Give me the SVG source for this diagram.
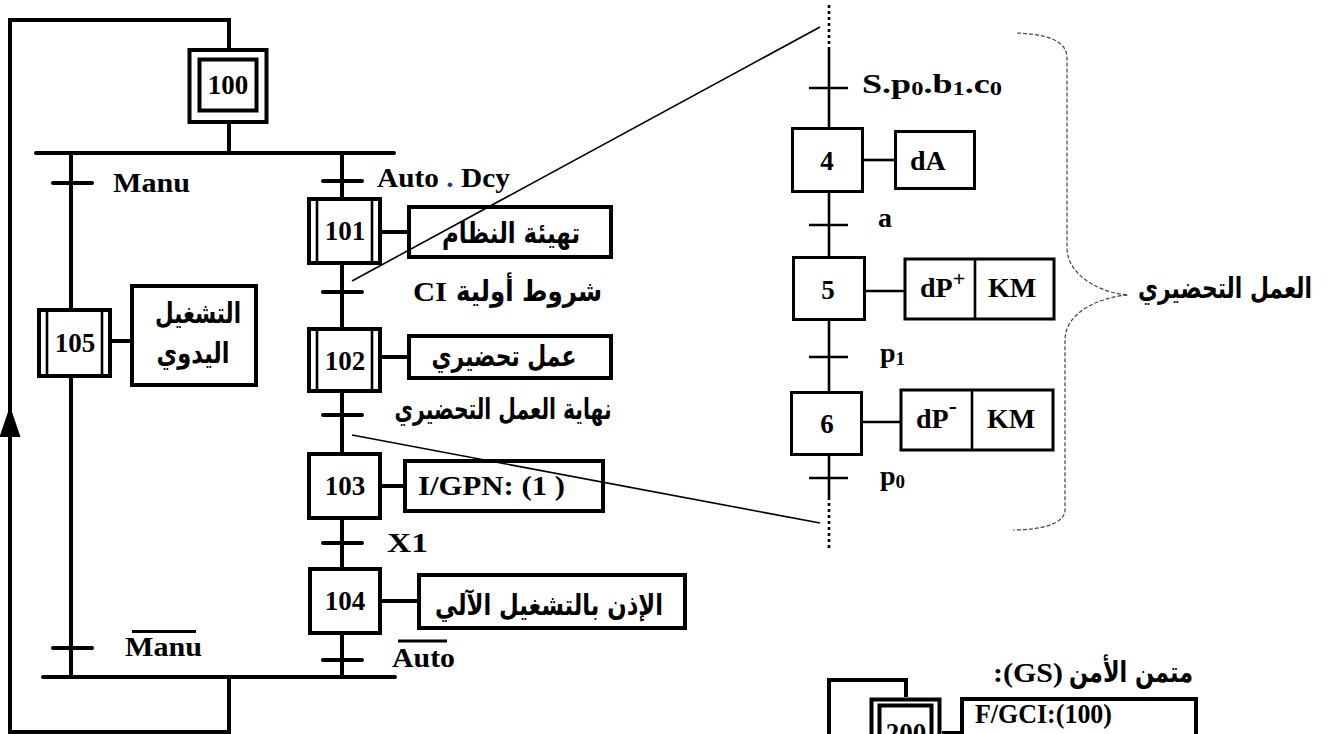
<svg xmlns="http://www.w3.org/2000/svg" width="1339" height="734" viewBox="0 0 1339 734">
<style>
.bg{fill:#fff}
.ln{stroke:#000;stroke-width:4;fill:none}
.lnr{stroke:#000;stroke-width:4;fill:none;stroke-linecap:round}
.box{fill:#fff;stroke:#000;stroke-width:4}
.act{fill:#fff;stroke:#000;stroke-width:4}
.bar{stroke:#000;stroke-width:2.6}
.rl{stroke:#000;stroke-width:2.6;fill:none}
.rbox{fill:#fff;stroke:#000;stroke-width:3}
.dot{stroke:#000;stroke-width:2.6;stroke-dasharray:3 3;fill:none}
.thin{stroke:#000;stroke-width:1.6;fill:none}
.brace{stroke:#444;stroke-width:1.2;stroke-dasharray:4 2;fill:none}
.num{font-family:'Liberation Serif',serif;font-weight:bold;font-size:27px;text-anchor:middle;fill:#000}
.lat{font-family:'Liberation Serif',serif;font-weight:bold;font-size:28px;fill:#000}
.ar{font-family:'DejaVu Sans','Liberation Serif',sans-serif;font-weight:bold;font-size:29px;text-anchor:middle;fill:#000}
</style>
<rect class="bg" x="0" y="0" width="1339" height="734"/>

<g id="step100">
  <rect class="box" x="189.5" y="50" width="77" height="72" stroke-width="4.5"/>
  <rect class="box" x="199.5" y="59.5" width="57" height="51" stroke-width="4.5"/>
  <text class="num" x="228" y="94">100</text>
</g>

<g id="step105">
  <rect class="box" x="39" y="310" width="71" height="66"/>
  <line class="bar" x1="47" y1="310" x2="47" y2="376"/>
  <line class="bar" x1="102" y1="310" x2="102" y2="376"/>
  <text class="num" x="75" y="352">105</text>
  <rect class="act" x="132" y="286" width="124" height="99"/>
  <text class="ar" x="198" y="323" textLength="86" lengthAdjust="spacingAndGlyphs">التشغيل</text>
  <text class="ar" x="193" y="363" textLength="73" lengthAdjust="spacingAndGlyphs">اليدوي</text>
</g>

<g id="step101">
  <rect class="box" x="309" y="199" width="71" height="64"/>
  <line class="bar" x1="317" y1="199" x2="317" y2="263"/>
  <line class="bar" x1="372" y1="199" x2="372" y2="263"/>
  <text class="num" x="345" y="240">101</text>
  <rect class="act" x="409" y="207" width="202" height="50"/>
  <text class="ar" x="511" y="243" textLength="138" lengthAdjust="spacingAndGlyphs">تهيئة النظام</text>
</g>

<g id="step102">
  <rect class="box" x="309" y="329" width="71" height="62"/>
  <line class="bar" x1="317" y1="329" x2="317" y2="391"/>
  <line class="bar" x1="372" y1="329" x2="372" y2="391"/>
  <text class="num" x="345" y="370">102</text>
  <rect class="act" x="409" y="336" width="202" height="42"/>
  <text class="ar" x="504" y="366" textLength="145" lengthAdjust="spacingAndGlyphs">عمل تحضيري</text>
</g>

<g id="step103">
  <rect class="box" x="309" y="454" width="71" height="64"/>
  <text class="num" x="345" y="495">103</text>
  <rect class="act" x="405" y="461" width="198" height="50"/>
  <text class="lat" x="418" y="495" textLength="147" lengthAdjust="spacingAndGlyphs">I/GPN: (1 )</text>
</g>

<g id="step104">
  <rect class="box" x="310" y="569" width="70" height="64"/>
  <text class="num" x="345" y="610">104</text>
  <rect class="act" x="419" y="575" width="266" height="53"/>
  <text class="ar" x="549" y="615" textLength="228" lengthAdjust="spacingAndGlyphs">الإذن بالتشغيل الآلي</text>
</g>

<g id="transition-labels">
  <text class="lat" x="113" y="192" textLength="77" lengthAdjust="spacingAndGlyphs">Manu</text>
  <text class="lat" x="377" y="187" textLength="133" lengthAdjust="spacingAndGlyphs">Auto <tspan fill="#1f3a8a">.</tspan> Dcy</text>
  <text class="lat" x="413" y="301" font-size="31" textLength="34" lengthAdjust="spacingAndGlyphs">CI</text>
  <text class="ar" x="529" y="301" textLength="146" lengthAdjust="spacingAndGlyphs">شروط أولية</text>
  <text class="ar" x="503" y="419" textLength="217" lengthAdjust="spacingAndGlyphs">نهاية العمل التحضيري</text>
  <text class="lat" x="387" y="552" font-size="30" textLength="41" lengthAdjust="spacingAndGlyphs">X1</text>
  <text class="lat" x="125" y="656" textLength="77" lengthAdjust="spacingAndGlyphs">Manu</text>
  <line stroke="#000" stroke-width="3" x1="132" y1="631.5" x2="196" y2="631.5"/>
  <text class="lat" x="392" y="667" textLength="63" lengthAdjust="spacingAndGlyphs">Auto</text>
  <line stroke="#000" stroke-width="3" x1="398" y1="641" x2="447" y2="641"/>
</g>

<g id="step4">
  <rect class="rbox" x="792.5" y="128.5" width="70" height="63"/>
  <text class="num" x="827" y="170">4</text>
  <rect class="rbox" x="895.5" y="131.5" width="79" height="57" stroke-width="2.6"/>
  <text class="lat" x="910" y="170" font-size="27">dA</text>
</g>

<g id="step5">
  <rect class="rbox" x="793.5" y="257.5" width="71" height="62"/>
  <text class="num" x="828" y="299">5</text>
  <rect class="rbox" x="905" y="259" width="149" height="60" stroke-width="2.6"/>
  <line class="rl" x1="975" y1="259" x2="975" y2="319"/>
  <text class="lat" x="920" y="297" font-size="27">dP<tspan font-size="22" dy="-11">+</tspan></text>
  <text class="lat" x="988" y="297" font-size="27">KM</text>
</g>

<g id="step6">
  <rect class="rbox" x="791.5" y="392.5" width="70" height="62"/>
  <text class="num" x="827" y="433">6</text>
  <rect class="rbox" x="901" y="390" width="152" height="60" stroke-width="2.6"/>
  <line class="rl" x1="972" y1="390" x2="972" y2="450"/>
  <text class="lat" x="916" y="428" font-size="27">dP<tspan font-size="24" dy="-14">-</tspan></text>
  <text class="lat" x="987" y="428" font-size="27">KM</text>
</g>

<g id="detail-labels">
  <text class="lat" x="862" y="93" font-size="27" textLength="140" lengthAdjust="spacingAndGlyphs">S.p<tspan font-size="19" dy="2">0</tspan><tspan dy="-2">.b</tspan><tspan font-size="19" dy="2">1</tspan><tspan dy="-2">.c</tspan><tspan font-size="19" dy="2">0</tspan></text>
  <text class="lat" x="878" y="227" font-size="27">a</text>
  <text class="lat" x="880" y="362" font-size="27">p<tspan font-size="19" dy="3">1</tspan></text>
  <text class="lat" x="880" y="485" font-size="27">p<tspan font-size="19" dy="3">0</tspan></text>
  <text class="ar" x="1225" y="298" textLength="174" lengthAdjust="spacingAndGlyphs">العمل التحضيري</text>
</g>

<g id="gs">
  <text class="lat" x="993" y="682" textLength="70" lengthAdjust="spacingAndGlyphs">:(GS)</text>
  <text class="ar" x="1131" y="682" textLength="124" lengthAdjust="spacingAndGlyphs">متمن الأمن</text>
  <rect class="box" x="871.5" y="699.5" width="68" height="80" stroke-width="4.5"/>
  <rect class="box" x="879.5" y="705.5" width="52" height="70"/>
  <text class="num" x="906" y="742">200</text>
  <rect class="act" x="962" y="699" width="234" height="60"/>
  <text class="lat" x="975" y="723" textLength="137" lengthAdjust="spacingAndGlyphs">F/GCI:(100)</text>
</g>

<g id="connectors">
  <path class="ln" d="M229,48 V20 H10 V732 H229 V677"/>
  <polygon points="10,406 -0.5,437 20.5,437" fill="#000"/>
  <line class="ln" x1="229" y1="122" x2="229" y2="153"/>
  <line class="lnr" x1="36" y1="153" x2="394" y2="153"/>
  <line class="lnr" x1="43" y1="677" x2="395" y2="677"/>
  <line class="ln" x1="71" y1="153" x2="71" y2="308"/>
  <line class="ln" x1="71" y1="378" x2="71" y2="677"/>
  <line class="lnr" x1="53" y1="183" x2="92" y2="183"/>
  <line class="lnr" x1="53" y1="648" x2="92" y2="648"/>
  <line class="ln" x1="112" y1="341" x2="130" y2="341"/>
  <line class="ln" x1="342" y1="153" x2="342" y2="197"/>
  <line class="ln" x1="342" y1="265" x2="342" y2="327"/>
  <line class="ln" x1="342" y1="393" x2="342" y2="452"/>
  <line class="ln" x1="342" y1="520" x2="342" y2="567"/>
  <line class="ln" x1="342" y1="635" x2="342" y2="677"/>
  <line class="lnr" x1="323" y1="181" x2="362" y2="181"/>
  <line class="lnr" x1="323" y1="292" x2="362" y2="292"/>
  <line class="lnr" x1="323" y1="415" x2="362" y2="415"/>
  <line class="lnr" x1="323" y1="543" x2="362" y2="543"/>
  <line class="lnr" x1="323" y1="660" x2="362" y2="660"/>
  <line class="ln" x1="382" y1="232" x2="407" y2="232"/>
  <line class="ln" x1="382" y1="357" x2="407" y2="357"/>
  <line class="ln" x1="382" y1="486" x2="403" y2="486"/>
  <line class="ln" x1="382" y1="601" x2="417" y2="601"/>
  <line class="thin" x1="352" y1="281" x2="820" y2="27"/>
  <line class="thin" x1="352" y1="435" x2="820" y2="523"/>
  <line class="dot" x1="829" y1="5" x2="829" y2="48"/>
  <line class="rl" x1="829" y1="48" x2="829" y2="127"/>
  <line class="rl" x1="829" y1="193" x2="829" y2="256"/>
  <line class="rl" x1="829" y1="321" x2="829" y2="391"/>
  <line class="rl" x1="829" y1="456" x2="829" y2="497"/>
  <line class="dot" x1="829" y1="497" x2="829" y2="550"/>
  <line class="bar" x1="809" y1="88" x2="848" y2="88"/>
  <line class="bar" x1="809" y1="225" x2="848" y2="225"/>
  <line class="bar" x1="809" y1="357" x2="848" y2="357"/>
  <line class="bar" x1="809" y1="478" x2="848" y2="478"/>
  <line class="rl" x1="864" y1="160" x2="894" y2="160"/>
  <line class="rl" x1="866" y1="291" x2="904" y2="291"/>
  <line class="rl" x1="863" y1="422" x2="900" y2="422"/>
  <path class="brace" d="M1017,33 C1045,34 1067,40 1067,58 V248 C1067,275 1100,293 1128,295 C1100,297 1065,312 1065,340 V510 C1065,524 1040,530 1013,530"/>
  <path class="ln" d="M829,734 V680 H906 V697"/>
  <line class="ln" x1="942" y1="733" x2="960" y2="733"/>
</g>
</svg>
